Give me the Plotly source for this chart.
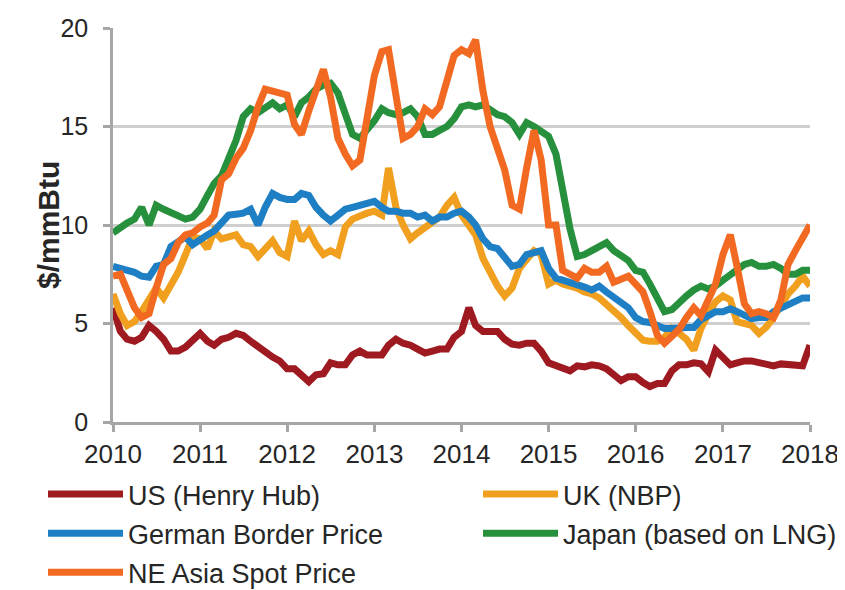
import pandas as pd
import plotly.graph_objects as go

months = pd.date_range("2010-01-01", "2018-01-01", freq="MS")
year_ticks = [f"{y}-01-01" for y in range(2010, 2019)]
year_labels = [str(y) for y in range(2010, 2019)]
y_ticks = [0, 5, 10, 15, 20]

us_henry_hub = [
    5.8, 4.6, 4.2, 4.1, 4.3, 4.9, 4.6, 4.2, 3.6, 3.6, 3.8, 4.2,
    4.5, 4.1, 3.9, 4.2, 4.3, 4.5, 4.4, 4.1, 3.8, 3.6, 3.3, 3.1,
    2.7, 2.7, 2.4, 2.05, 2.4, 2.45, 3.0, 2.9, 2.9, 3.4, 3.6, 3.4,
    3.4, 3.4, 3.9, 4.2, 4.0, 3.9, 3.7, 3.5, 3.6, 3.7, 3.7, 4.3,
    4.6, 5.8, 4.9, 4.6, 4.6, 4.6, 4.2, 3.95, 3.9, 4.0, 4.0, 3.6,
    3.0, 2.85, 2.8, 2.6, 2.85, 2.8, 2.9, 2.85, 2.7, 2.4, 2.1, 2.3,
    2.3, 2.0, 1.8, 1.95, 1.95, 2.6, 2.9, 2.9, 3.0, 2.95, 2.55, 3.65,
    3.3, 2.9, 3.0, 3.1, 3.1, 3.0, 2.95, 2.85, 2.95, 2.9, 2.9, 2.85,
    3.9,
]
uk_nbp = [
    6.5, 5.5, 4.9, 5.1, 5.6, 6.2, 6.8, 6.3, 7.0, 7.6, 8.5, 9.4,
    9.3, 8.8, 9.7, 9.3, 9.4, 9.5, 9.0, 8.9, 8.4, 8.8, 9.2, 8.6,
    8.4, 10.2, 9.2, 9.7, 9.0, 8.5, 8.7, 8.5, 9.9, 10.3, 10.5, 10.6,
    10.7, 10.5, 12.9, 10.9, 10.0, 9.3, 9.6, 9.9, 10.1, 10.4, 11.0, 11.4,
    10.5, 10.0, 9.5, 8.3, 7.6, 6.9, 6.4, 6.8, 7.8, 8.2, 8.7, 8.5,
    7.0, 7.2, 7.0, 6.9, 6.8, 6.6, 6.5, 6.3, 6.0, 5.7, 5.3, 4.9,
    4.5, 4.15, 4.1, 4.1, 4.3, 4.75, 4.5, 4.2, 3.65, 4.75, 5.5, 6.1,
    6.4, 6.2, 5.1, 5.0, 4.9, 4.5, 4.8, 5.3, 6.0, 6.5, 6.9, 7.4,
    6.9,
]
german_border = [
    7.9, 7.8, 7.75, 7.6, 7.4, 7.35, 7.9, 8.0, 8.9, 9.1, 9.4, 9.0,
    9.2, 9.5, 9.7, 10.1, 10.5, 10.55, 10.6, 10.8, 10.0, 10.9, 11.6, 11.4,
    11.3, 11.3, 11.6, 11.5, 10.9, 10.5, 10.2, 10.5, 10.8, 10.9, 11.0, 11.1,
    11.2, 10.9, 10.7, 10.7, 10.6, 10.6, 10.4, 10.5, 10.2, 10.4, 10.4, 10.6,
    10.7, 10.4, 10.0, 9.3, 8.9, 8.8, 8.3, 7.9, 8.0, 8.5, 8.6, 8.7,
    7.8, 7.3, 7.2, 7.1, 7.0, 6.85, 6.7, 6.9, 6.6, 6.3, 6.0, 5.8,
    5.3, 5.1, 5.05, 4.9, 4.75, 4.75, 4.8, 4.8, 4.8, 5.2, 5.4, 5.6,
    5.6, 5.75, 5.6, 5.4, 5.25, 5.3, 5.3, 5.6, 5.8, 6.0, 6.1, 6.3,
    6.3,
]
japan_lng = [
    9.6, 9.9, 10.1, 10.3, 10.9, 10.0, 11.0, 10.8, 10.6, 10.5, 10.3, 10.4,
    10.8, 11.5, 12.1, 12.5, 13.3, 14.3, 15.5, 15.9, 15.7, 15.9, 16.2, 15.9,
    16.1, 15.5, 16.2, 16.5, 16.9, 17.1, 17.2, 16.7, 15.6, 14.6, 14.4, 14.8,
    15.3, 15.9, 15.7, 15.6, 15.7, 15.9, 15.5, 14.6, 14.6, 14.8, 15.0, 15.4,
    16.0, 16.1, 16.0, 16.1, 15.8, 15.6, 15.5, 15.2, 14.6, 15.2, 15.0, 14.7,
    14.5, 13.6, 11.8, 9.8, 8.4, 8.5, 8.7, 8.9, 9.1, 8.7, 8.4, 8.2,
    7.7, 7.6, 7.0, 6.3, 5.6, 5.7, 6.1, 6.4, 6.7, 6.9, 6.75, 6.9,
    7.2, 7.5, 7.7, 8.0, 8.1, 7.9, 7.9, 8.0, 7.8, 7.5, 7.5, 7.7,
    7.7,
]
ne_asia_spot = [
    7.4, 7.5, 6.7, 5.8, 5.3, 5.5, 6.8, 8.0, 8.3, 9.1, 9.5, 9.6,
    9.9, 10.1, 10.5, 12.3, 12.6, 13.4, 13.9, 14.8, 16.0, 16.9, 16.8, 16.7,
    16.6, 15.1, 14.6, 15.8, 16.9, 17.9, 16.5, 14.4, 13.6, 13.0, 13.3, 15.2,
    17.6, 18.8, 18.9, 16.6, 14.4, 14.6, 15.0, 15.9, 15.6, 16.0, 17.3, 18.6,
    18.9, 18.7, 19.4, 16.8, 15.0, 13.9, 12.8, 11.0, 10.8, 12.9, 14.8, 13.3,
    10.0, 10.0, 7.7, 7.5, 7.3, 7.8, 7.6, 7.6, 7.9, 7.1, 7.3, 7.4,
    7.0, 6.6, 5.6, 4.4, 4.0, 4.4, 4.7, 5.3, 5.8, 5.4, 6.3, 7.0,
    8.5, 9.5, 7.9, 6.0, 5.5, 5.6, 5.5, 5.3, 6.2, 8.0, 8.7, 9.3,
    10.0,
]

series = [
    ("US (Henry Hub)", us_henry_hub, "#9e1a20", "legend"),
    ("UK (NBP)", uk_nbp, "#f0a01e", "legend2"),
    ("German Border Price", german_border, "#1f7fc4", "legend"),
    ("Japan (based on LNG)", japan_lng, "#27903c", "legend2"),
    ("NE Asia Spot Price", ne_asia_spot, "#f26a21", "legend"),
]

FONT = "Liberation Sans, Arial, Helvetica, sans-serif"
W, H = 845, 590
ML, MR, MT, MB = 105, 43, 20, 176

fig = go.Figure()
for name, vals, color, leg in series:
    fig.add_trace(go.Scatter(
        x=months, y=vals, mode="lines", name=name,
        line=dict(color=color, width=7),
        legend=leg, legendgroup=name,
    ))

legend_common = dict(
    xref="container", yref="container", xanchor="left", yanchor="top",
    orientation="v", font=dict(family=FONT, size=27, color="#262626"),
    itemwidth=75, tracegroupgap=1, bgcolor="rgba(0,0,0,0)",
)

fig.update_layout(
    width=W, height=H,
    paper_bgcolor="white", plot_bgcolor="white",
    margin=dict(l=ML, r=MR, t=MT, b=MB, autoexpand=False),
    font=dict(family=FONT, color="#262626"),
    showlegend=True,
    legend=dict(x=35 / W, y=1 - 462 / H, **legend_common),
    legend2=dict(x=470 / W, y=1 - 462 / H, **legend_common),
    xaxis=dict(
        type="date",
        range=["2010-01-01", "2018-01-01"],
        tickvals=year_ticks, ticktext=year_labels,
        showgrid=False, zeroline=False,
        showline=True, linecolor="#a6a6a6", linewidth=2.5,
        ticks="outside", ticklen=7, tickwidth=2.5, tickcolor="#a6a6a6",
        tickfont=dict(family=FONT, size=26, color="#262626"),
    ),
    yaxis=dict(
        range=[0, 20], tickvals=y_ticks,
        showgrid=True, gridcolor="#cfcfcf", gridwidth=2.5,
        zeroline=False,
        showline=True, linecolor="#a6a6a6", linewidth=2.5,
        ticks="outside", ticklen=7, tickwidth=2.5, tickcolor="#a6a6a6",
        ticklabelstandoff=10,
        tickfont=dict(family=FONT, size=25, color="#262626"),
    ),
    annotations=[dict(
        text="<b>$/mmBtu</b>", textangle=-90,
        xref="paper", yref="paper", x=0, y=0.5,
        xanchor="center", yanchor="middle", xshift=-(ML - 40),
        showarrow=False,
        font=dict(family=FONT, size=30, color="#262626"),
    )],
)

fig.write_html("out.html")
